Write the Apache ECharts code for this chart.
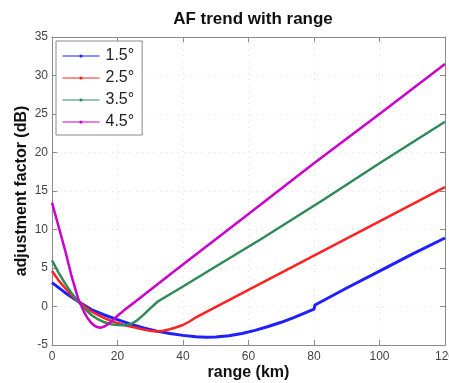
<!DOCTYPE html>
<html>
<head>
<meta charset="utf-8">
<script src="https://cdn.jsdelivr.net/npm/echarts@6/dist/echarts.min.js"></script>
<style>
  html, body { margin: 0; padding: 0; background: #fff; }
  #chart { width: 449px; height: 383px; }
</style>
</head>
<body>
<div id="chart"></div>
<script>
const seriesNames = ['1.5°', '2.5°', '3.5°', '4.5°'];
const seriesColors = ['#1f1fff', '#ff2222', '#2e8b57', '#cc00cc'];

const blueX = [0, 4, 8, 12, 16, 20, 24, 28, 32, 36, 40, 44, 47, 50, 54, 58, 62, 66, 70, 74, 78, 80, 80.3, 90, 100, 110, 120];
const blueY = [3.1, 1.8, 0.65, -0.4, -1.1, -1.7, -2.3, -2.8, -3.2, -3.5, -3.75, -3.93, -4.0, -3.97, -3.8, -3.5, -3.1, -2.6, -2.05, -1.4, -0.7, -0.35, 0.2, 2.4, 4.6, 6.8, 8.9];

const redX = [0, 2, 4, 6, 8, 10, 12, 14, 16, 18, 20, 22, 24, 26, 28, 30, 32, 34, 36, 38, 40, 42, 44, 46, 60, 80, 100, 120];
const redY = [4.6, 3.4, 2.4, 1.45, 0.65, 0, -0.65, -1.1, -1.5, -1.85, -2.15, -2.4, -2.6, -2.8, -3.0, -3.15, -3.25, -3.15, -2.95, -2.7, -2.4, -1.95, -1.4, -0.95, 2.15, 6.6, 11.05, 15.5];

const greenX = [0, 2, 4, 6, 8, 10, 12, 14, 16, 18, 20, 22, 24, 26, 28, 30, 32.3, 40, 50, 64, 83, 100, 120];
const greenY = [6.0, 4.4, 3.0, 1.7, 0.65, -0.3, -1.1, -1.65, -2.05, -2.3, -2.4, -2.45, -2.3, -1.8, -1.05, -0.25, 0.65, 2.6, 5.2, 8.8, 13.9, 18.6, 24.0];

const magentaX = [0, 2, 4, 6, 8, 10, 11, 12, 13, 14, 15, 16, 17, 18, 19, 20, 22, 25, 38, 60, 80, 100, 120];
const magentaY = [13.5, 10.4, 7.3, 3.9, 1.0, -0.9, -1.6, -2.15, -2.5, -2.7, -2.75, -2.6, -2.35, -2.0, -1.6, -1.2, -0.5, 0.5, 4.8, 12.0, 18.6, 25.0, 31.5];

const xTicks = { min: 0, max: 120, interval: 20 };
const yTicks = { min: -5, max: 35, interval: 5 };

const pairs = (xs, ys) => xs.map((x, i) => [x, ys[i]]);
const allData = [pairs(blueX, blueY), pairs(redX, redY), pairs(greenX, greenY), pairs(magentaX, magentaY)];

const chart = echarts.init(document.getElementById('chart'));

const font = 'Liberation Sans, Arial, sans-serif';
const frame = { show: true, onZero: false, lineStyle: { color: '#8a8a8a', width: 1 } };
const tick = { show: true, inside: true, length: 5, lineStyle: { color: '#8a8a8a' } };
const label = { color: '#444', fontSize: 12, fontFamily: font };
const nameStyle = { color: '#111', fontSize: 16, fontWeight: 'bold', fontFamily: font };
const grid = { show: true, lineStyle: { color: '#dedede', type: [1, 5] } };

chart.setOption({
  animation: false,
  title: {
    text: 'AF trend with range',
    left: 248, top: 6, textAlign: 'center',
    textStyle: { fontSize: 17, fontWeight: 'bold', color: '#111', fontFamily: font }
  },
  grid: { left: 52, right: 4, top: 37, bottom: 38, outerBoundsMode: 'none' },
  legend: {
    orient: 'vertical',
    left: 56, top: 41,
    data: seriesNames,
    itemWidth: 37, itemHeight: 4, itemGap: 6,
    padding: [7, 8, 5, 6],
    backgroundColor: '#fff',
    borderColor: '#8a8a8a', borderWidth: 1, borderRadius: 0,
    lineStyle: { width: 1 },
    textStyle: { fontSize: 16, color: '#222', fontFamily: font, padding: [0, 0, 0, 1] }
  },
  xAxis: [
    {
      type: 'value', ...xTicks,
      name: 'range (km)', nameLocation: 'middle', nameGap: 20, nameMoveOverlap: false,
      nameTextStyle: nameStyle,
      axisLine: frame, axisTick: tick, axisLabel: { ...label, margin: 6 },
      splitLine: grid
    },
    {
      type: 'value', position: 'top', ...xTicks,
      axisLine: frame, axisTick: tick, axisLabel: { show: false }, splitLine: { show: false }
    }
  ],
  yAxis: [
    {
      type: 'value', ...yTicks,
      name: 'adjustment factor (dB)', nameLocation: 'middle', nameGap: 22, nameMoveOverlap: false,
      nameTextStyle: nameStyle,
      axisLine: frame, axisTick: tick, axisLabel: { ...label, margin: 4 },
      splitLine: grid
    },
    {
      type: 'value', position: 'right', ...yTicks,
      axisLine: frame, axisTick: tick, axisLabel: { show: false }, splitLine: { show: false }
    }
  ],
  series: seriesNames.map((name, i) => ({
    name,
    type: 'line',
    data: allData[i],
    smooth: false,
    symbol: 'circle',
    symbolSize: 3,
    showSymbol: false,
    color: seriesColors[i],
    lineStyle: { width: i === 0 ? 3 : 2.5, color: seriesColors[i], join: 'round' },
    z: 2 + i
  }))
});
</script>
</body>
</html>
